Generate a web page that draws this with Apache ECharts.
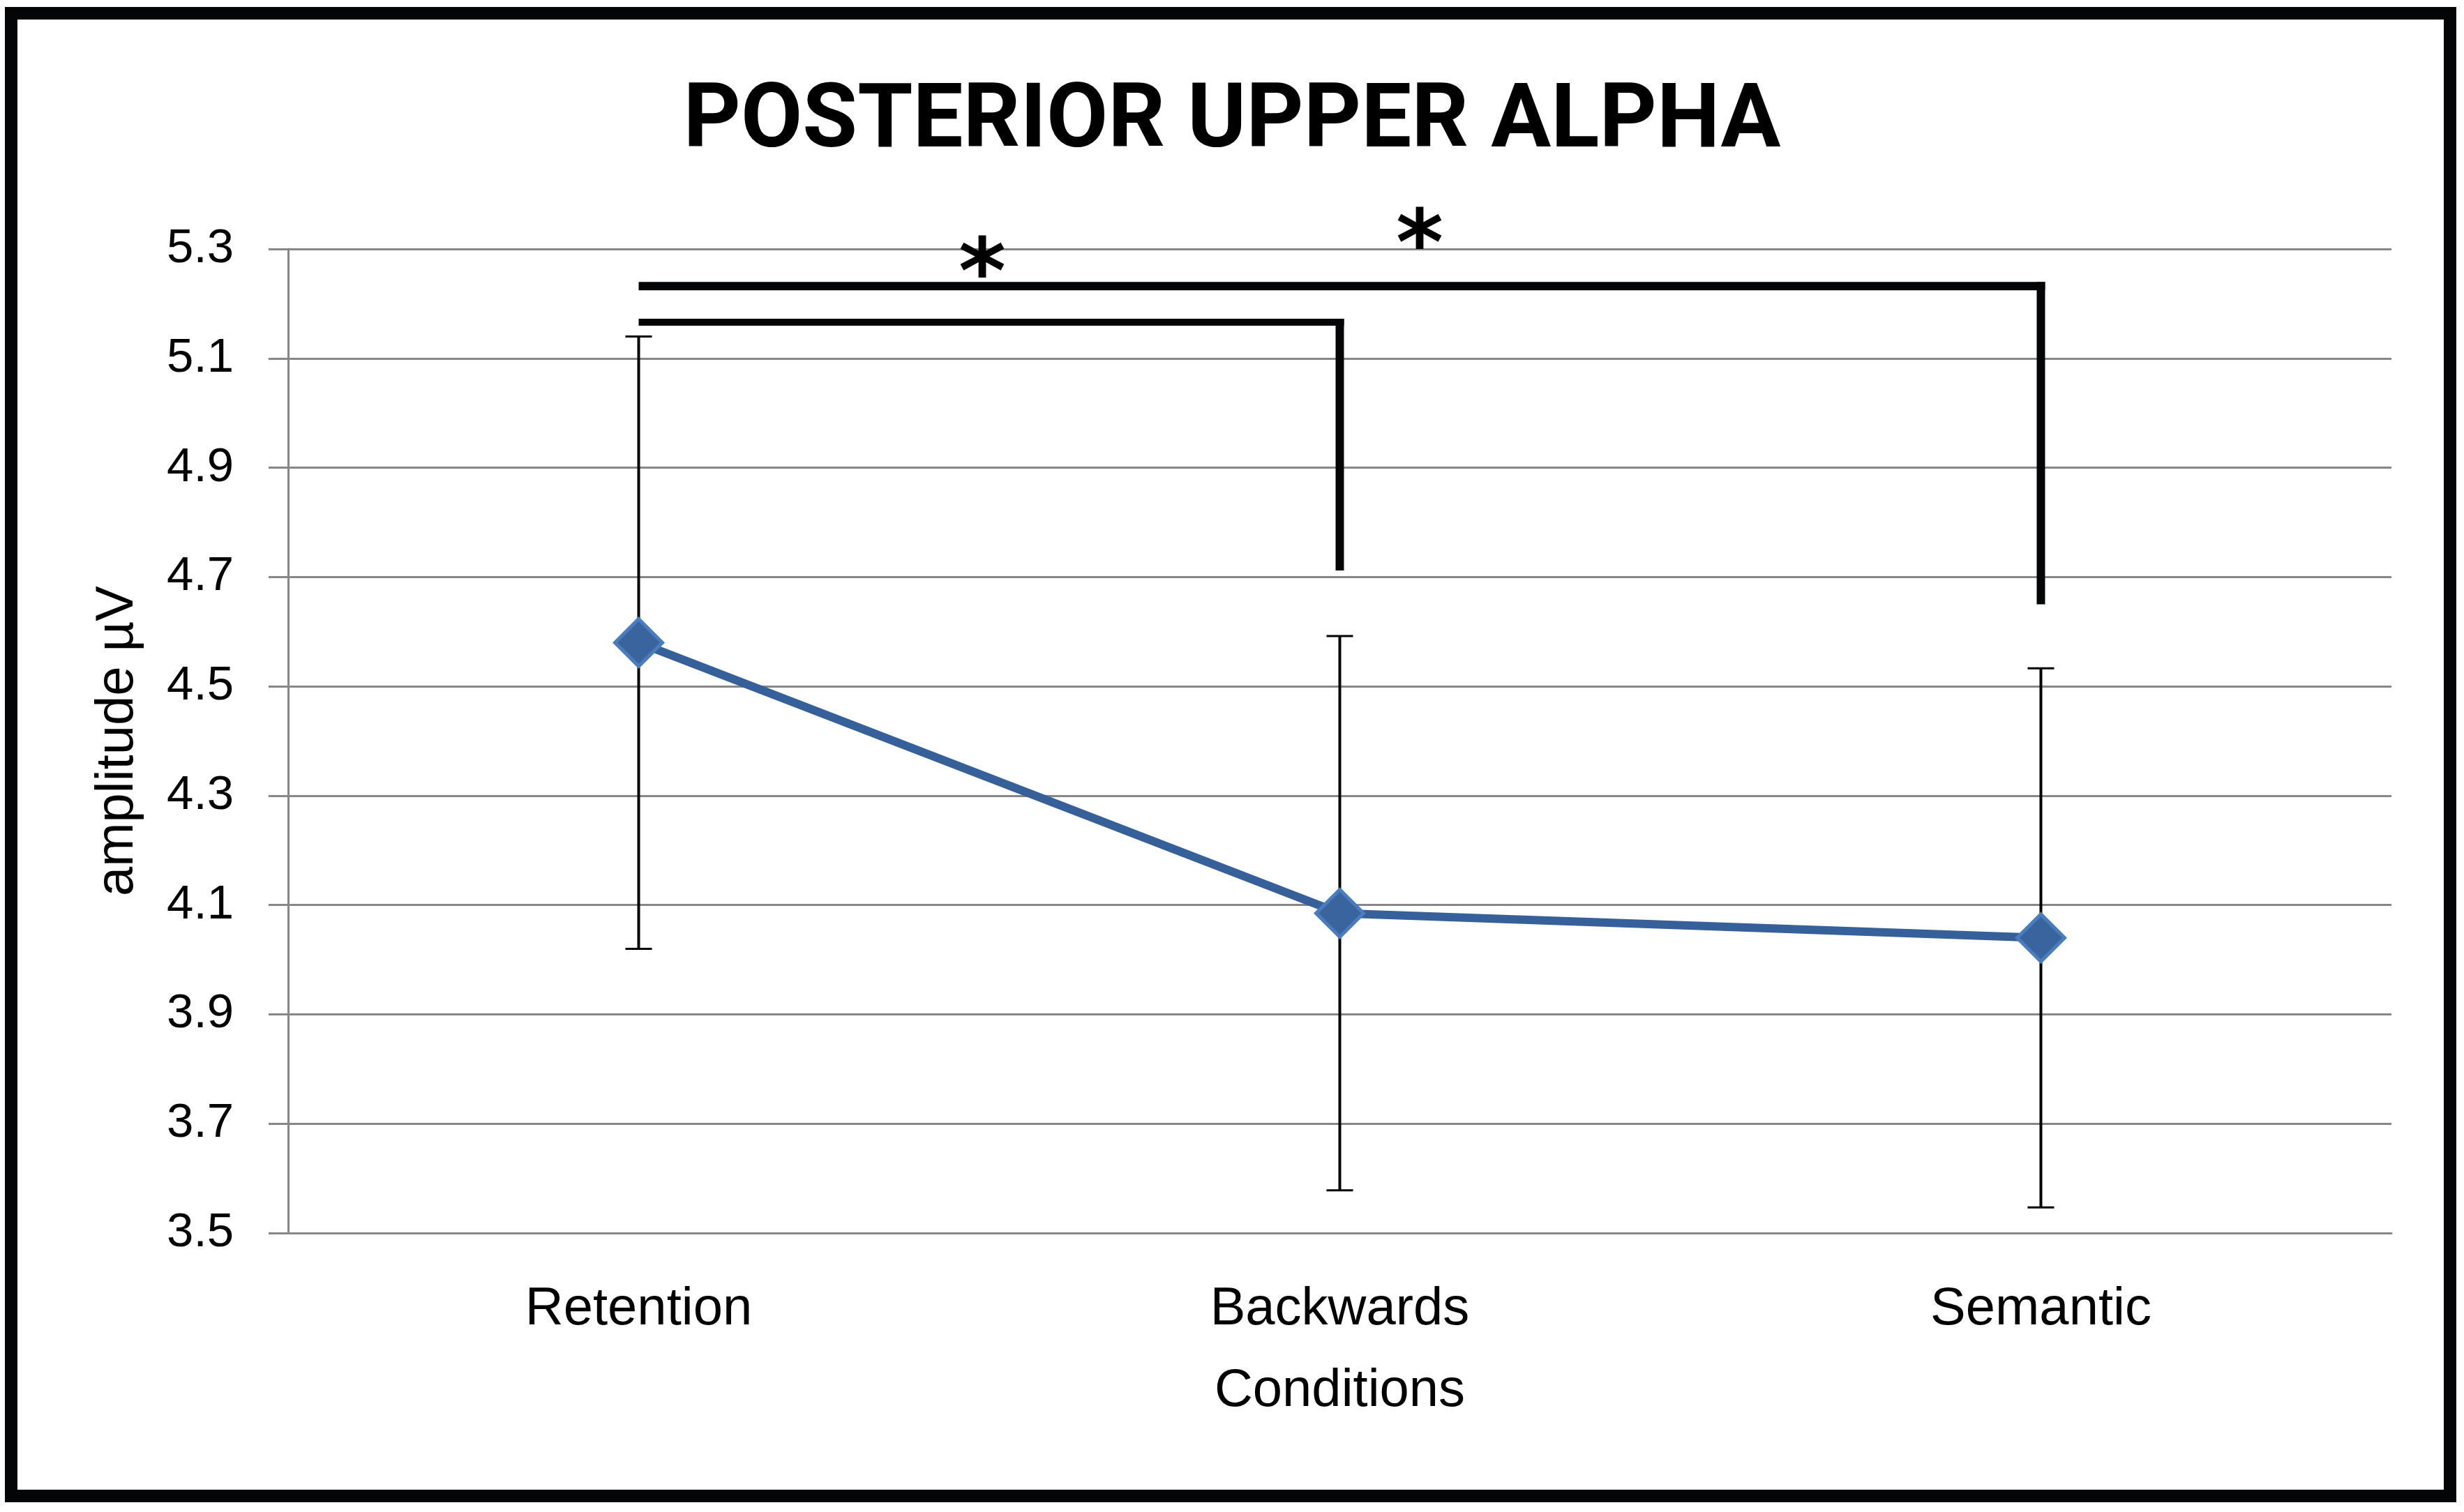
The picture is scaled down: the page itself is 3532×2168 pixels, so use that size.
<!DOCTYPE html>
<html><head><meta charset="utf-8">
<script src="https://cdn.jsdelivr.net/npm/echarts@6/dist/echarts.min.js"></script>
<style>html,body{margin:0;padding:0;background:#fff}#c{width:3532px;height:2168px}</style>
</head><body><div id="c"></div>
<script>
// ---- data ----
const categories = ['Retention', 'Backwards', 'Semantic'];
const meanAmplitude = [4.58, 4.085, 4.04];
const errorMargin = [0.56, 0.507, 0.493];
const yMin = 3.5, yMax = 5.3, yStep = 0.2;
// significance brackets (category index from -> to, bracket level, drop end)
const sigFrom = [0, 0];
const sigTo = [1, 2];
const sigLevel = [5.166, 5.232];
const sigDrop = [4.712, 4.65];
const sigStarLevel = [5.276, 5.329];
const sigStarFraction = [0.49, 0.557];
const titleText = 'POSTERIOR UPPER ALPHA';
const xName = 'Conditions';
const yName = 'amplitude µV';

// ---- styles ----
const GRAY = '#878787';
const sigLineWidth = [10, 12];

const chart = echarts.init(document.getElementById('c'), null, {renderer: 'canvas'});

const errData = categories.map((c, i) => [i, meanAmplitude[i] - errorMargin[i], meanAmplitude[i] + errorMargin[i]]);
const sigData = sigFrom.map((f, i) => [f, sigTo[i], sigLevel[i], sigDrop[i], sigStarLevel[i], sigStarFraction[i], i]);

const option = {
  backgroundColor: '#fff',
  animation: false,
  title: {
    text: titleText,
    left: 'center',
    top: 109,
    textStyle: {fontFamily: 'Roboto', fontWeight: 'bold', fontSize: 128, color: '#000'}
  },
  grid: {left: 413, right: 104, top: 357, bottom: 400, containLabel: false},
  xAxis: {
    type: 'category',
    data: categories,
    boundaryGap: true,
    name: xName,
    nameLocation: 'middle',
    nameGap: 189,
    nameTextStyle: {fontFamily: 'Liberation Sans', fontSize: 76, color: '#000'},
    axisLine: {show: true, lineStyle: {color: GRAY, width: 3}},
    axisTick: {show: false},
    axisLabel: {margin: 72, fontFamily: 'Liberation Sans', fontSize: 76, color: '#000'},
    splitLine: {show: false}
  },
  yAxis: {
    type: 'value',
    min: yMin,
    max: yMax,
    interval: yStep,
    name: yName,
    nameLocation: 'middle',
    nameGap: 206,
    nameTextStyle: {fontFamily: 'Liberation Sans', fontSize: 76, color: '#000'},
    axisLine: {show: true, lineStyle: {color: GRAY, width: 3}},
    axisTick: {show: true, inside: false, length: 28, lineStyle: {color: GRAY, width: 3}},
    axisLabel: {margin: 78, fontFamily: 'Liberation Sans', fontSize: 69, color: '#000', formatter: v => v.toFixed(1)},
    splitLine: {show: true, lineStyle: {color: GRAY, width: 3}}
  },
  graphic: [{
    type: 'rect',
    shape: {x: 16, y: 19, width: 3496, height: 2126},
    style: {fill: 'none', stroke: '#030506', lineWidth: 18},
    z: 100
  }],
  series: [
    {
      type: 'custom',
      name: 'error',
      z: 2,
      clip: false,
      data: errData,
      renderItem: function (params, api) {
        const x = api.value(0);
        const lo = api.coord([x, api.value(1)]);
        const hi = api.coord([x, api.value(2)]);
        const hw = 19;
        const st = {stroke: '#000', lineWidth: 4};
        return {type: 'group', children: [
          {type: 'line', shape: {x1: lo[0], y1: lo[1], x2: hi[0], y2: hi[1]}, style: st},
          {type: 'line', shape: {x1: lo[0] - hw, y1: lo[1], x2: lo[0] + hw, y2: lo[1]}, style: {stroke: '#000', lineWidth: 3}},
          {type: 'line', shape: {x1: hi[0] - hw, y1: hi[1], x2: hi[0] + hw, y2: hi[1]}, style: {stroke: '#000', lineWidth: 3}}
        ]};
      }
    },
    {
      type: 'line',
      name: 'amplitude',
      z: 3,
      data: meanAmplitude,
      symbol: 'diamond',
      symbolSize: 68,
      lineStyle: {color: '#36609A', width: 12},
      itemStyle: {color: '#3A649E', borderColor: '#4A7DBD', borderWidth: 5}
    },
    {
      type: 'custom',
      name: 'significance',
      z: 4,
      clip: false,
      data: sigData,
      renderItem: function (params, api) {
        const from = api.value(0), to = api.value(1);
        const lvl = api.value(2), drop = api.value(3);
        const sLvl = api.value(4), frac = api.value(5), idx = api.value(6);
        const p0 = api.coord([from, lvl]);
        const p1 = api.coord([to, lvl]);
        const pd = api.coord([to, drop]);
        const ps = api.coord([from, sLvl]);
        const sx = p0[0] + (p1[0] - p0[0]) * frac;
        const fs = 130;
        const vw = 12;
        return {type: 'group', children: [
          {type: 'line', shape: {x1: p0[0], y1: p0[1], x2: p1[0] + vw / 2, y2: p1[1]}, style: {stroke: '#030506', lineWidth: sigLineWidth[idx]}},
          {type: 'line', shape: {x1: p1[0], y1: p1[1] - sigLineWidth[idx] / 2, x2: pd[0], y2: pd[1]}, style: {stroke: '#030506', lineWidth: vw}},
          {type: 'text', style: {text: '*', x: sx, y: ps[1] + fs * 0.19, align: 'center', verticalAlign: 'middle', font: 'bold ' + fs + 'px "DejaVu Sans"', fill: '#000'}}
        ]};
      }
    }
  ]
};
chart.setOption(option);
</script>
</body></html>
